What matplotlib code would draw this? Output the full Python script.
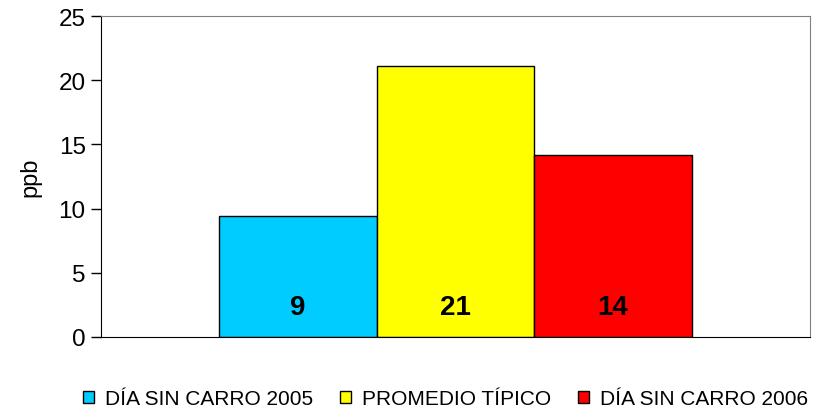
import matplotlib
matplotlib.use("Agg")
import matplotlib.pyplot as plt

# data
categorias = ["DÍA SIN CARRO 2005", "PROMEDIO TÍPICO", "DÍA SIN CARRO 2006"]
valores = [9.4, 21.1, 14.2]
etiquetas = ["9", "21", "14"]
colores = ["#00CCFF", "#FFFF00", "#FF0000"]

plt.rcParams['font.family'] = ['Liberation Sans', 'DejaVu Sans']

fig = plt.figure(figsize=(8.23, 4.14), dpi=100)
ax = fig.add_axes([0.1227, 0.1836, 0.8615, 0.7753])

xpos = [-1, 0, 1]
barras = ax.bar(xpos, valores, width=1.0, color=colores, edgecolor="black",
                linewidth=1.0)
for b, c in zip(barras, categorias):
    b.set_label(c)

for x, t in zip(xpos, etiquetas):
    ax.text(x, 2.3, t, ha="center", va="center", fontsize=20, fontweight="bold")

ax.set_xlim(-2.25, 2.25)
ax.set_ylim(0, 25)
ax.set_yticks([0, 5, 10, 15, 20, 25])
ax.set_xticks([])
ax.tick_params(axis="y", labelsize=17.5, length=7, width=1, direction="out", pad=4)
ax.set_ylabel("ppb", fontsize=17, labelpad=12)

for s in ["top", "right"]:
    ax.spines[s].set_color("#808080")
for s in ["left", "bottom"]:
    ax.spines[s].set_color("black")

fig.legend(handles=barras, loc="center", bbox_to_anchor=(0.541, 0.034), ncol=3,
           frameon=False, fontsize=15, handlelength=0.55, handleheight=0.55,
           handletextpad=0.5, columnspacing=1.3, borderaxespad=0)

fig.savefig("out.png", dpi=100)
